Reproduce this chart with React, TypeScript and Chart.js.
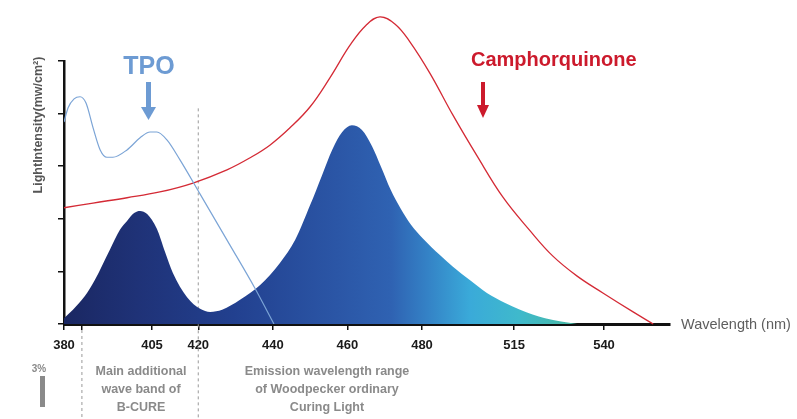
import React, { useEffect, useRef } from 'react';
import { Chart, registerables } from 'chart.js';

Chart.register(...registerables);

// ---- data (x in nm on the chart's own schematic scale, y in intensity units 0..5) ----
const emissionNm = [384.0, 386.4, 389.6, 392.3, 396.3, 399.0, 400.9, 402.8, 404.4, 406.3, 408.9, 411.1, 413.2, 417.0, 420.5, 423.2, 426.4, 431.2, 436.6, 441.9, 446.0, 450.0, 453.2, 455.9, 458.6, 461.2, 463.9, 466.6, 469.0, 471.6, 474.3, 477.0, 480.3, 484.8, 488.3, 492.9, 497.4, 502.3, 506.3, 513.0, 521.6];
const emissionLevel = [0.11, 0.27, 0.53, 0.84, 1.41, 1.79, 1.96, 2.11, 2.15, 2.09, 1.81, 1.37, 0.97, 0.51, 0.29, 0.23, 0.27, 0.46, 0.74, 1.16, 1.60, 2.26, 2.83, 3.31, 3.65, 3.78, 3.69, 3.38, 2.99, 2.55, 2.19, 1.89, 1.62, 1.31, 1.09, 0.83, 0.59, 0.40, 0.27, 0.11, 0.0];

const tpoNm = [384.0, 385.1, 386.7, 388.3, 389.9, 391.8, 393.7, 395.5, 397.1, 400.9, 404.4, 407.1, 408.9, 411.6, 415.1, 420.5, 428.5, 435.2, 440.3];
const tpoLevel = [3.84, 4.11, 4.28, 4.32, 4.20, 3.73, 3.31, 3.17, 3.17, 3.31, 3.54, 3.65, 3.65, 3.50, 3.12, 2.47, 1.50, 0.68, 0.0];

const cqNm = [384.0, 391.8, 400.9, 409.7, 418.6, 427.7, 433.9, 439.2, 444.6, 450.0, 455.3, 460.7, 465.0, 468.7, 472.8, 476.8, 482.1, 488.3, 494.8, 501.7, 509.0, 515.1, 521.6, 528.5, 536.6, 542.0];
const cqLevel = [2.21, 2.30, 2.40, 2.51, 2.68, 2.93, 3.16, 3.40, 3.73, 4.13, 4.68, 5.30, 5.68, 5.84, 5.70, 5.36, 4.77, 3.97, 3.19, 2.41, 1.77, 1.29, 0.91, 0.59, 0.23, 0.0];

const xTickValues = [384, 388.8, 407.6, 420, 440, 460, 480, 504.7, 528.8];
const xTickLabels = ['380', '', '405', '420', '440', '460', '480', '515', '540'];
const xMin = 384;
const xMax = 546.5;
const yTickStep = 1;
const yMax = 5;

const bandEdgeNm = 388.8;
const splitNm = 420;
const splitTopLevel = 4.1;

const yTitle = 'LightIntensity(mw/cm²)';
const xTitle = 'Wavelength (nm)';
const tpoLabel = 'TPO';
const cqLabel = 'Camphorquinone';
const leftNote = ['Main additional', 'wave band of', 'B-CURE'];
const rightNote = ['Emission wavelength range', 'of Woodpecker ordinary', 'Curing Light'];
const cornerNote = '3%';

const FONT = "'Liberation Sans', Arial, sans-serif";
const TPO_COLOR = '#6d9bd3';
const CQ_COLOR = '#cc1a2c';
const NOTE_COLOR = '#8a8a8a';

function arrowDown(ctx: CanvasRenderingContext2D, x: number, top: number, tip: number, shaft: number, head: number, color: string) {
  ctx.fillStyle = color;
  ctx.fillRect(x - shaft / 2, top, shaft, tip - top - 11);
  ctx.beginPath();
  ctx.moveTo(x - head / 2, tip - 13);
  ctx.lineTo(x + head / 2, tip - 13);
  ctx.lineTo(x, tip);
  ctx.closePath();
  ctx.fill();
}

const annotations = {
  id: 'annotations',
  beforeDatasetsDraw(chart: any) {
    const { ctx, scales } = chart;
    const x = scales.x;
    const y = scales.y;
    ctx.save();
    ctx.strokeStyle = '#9a9a9a';
    ctx.lineWidth = 1;
    ctx.setLineDash([3, 3]);
    const xs = x.getPixelForValue(splitNm);
    ctx.beginPath();
    ctx.moveTo(xs, y.getPixelForValue(splitTopLevel));
    ctx.lineTo(xs, chart.height);
    ctx.stroke();
    const xb = x.getPixelForValue(bandEdgeNm);
    ctx.beginPath();
    ctx.moveTo(xb, y.bottom + 6);
    ctx.lineTo(xb, chart.height);
    ctx.stroke();
    ctx.restore();
  },
  afterDraw(chart: any) {
    const { ctx, scales } = chart;
    const x = scales.x;
    const y = scales.y;
    ctx.save();
    // y title
    ctx.save();
    ctx.translate(39, 125);
    ctx.rotate(-Math.PI / 2);
    ctx.font = `bold 12.5px ${FONT}`;
    ctx.fillStyle = '#555';
    ctx.textAlign = 'center';
    ctx.textBaseline = 'middle';
    ctx.fillText(yTitle, 0, 0);
    ctx.restore();

    // x title
    ctx.font = `14.5px ${FONT}`;
    ctx.fillStyle = '#5e5e5e';
    ctx.textAlign = 'left';
    ctx.textBaseline = 'middle';
    ctx.fillText(xTitle, x.right + 11, y.bottom + 1);

    // TPO
    ctx.font = `bold 25px ${FONT}`;
    ctx.fillStyle = TPO_COLOR;
    ctx.textAlign = 'center';
    ctx.fillText(tpoLabel, 149, 67);
    arrowDown(ctx, 148.5, 82, 120, 5, 15, TPO_COLOR);

    // Camphorquinone
    ctx.font = `bold 20px ${FONT}`;
    ctx.fillStyle = CQ_COLOR;
    ctx.textAlign = 'left';
    ctx.fillText(cqLabel, 471, 60);
    arrowDown(ctx, 483, 82, 118, 4, 12, CQ_COLOR);

    // bottom notes
    ctx.font = `bold 12.5px ${FONT}`;
    ctx.fillStyle = NOTE_COLOR;
    ctx.textAlign = 'center';
    leftNote.forEach((t, i) => ctx.fillText(t, 141, 372 + i * 18));
    rightNote.forEach((t, i) => ctx.fillText(t, 327, 372 + i * 18));

    // corner mark
    ctx.font = `bold 10px ${FONT}`;
    ctx.fillText(cornerNote, 39, 369);
    ctx.fillRect(40, 376, 5, 31);
    ctx.restore();
  },
};

export default function App() {
  const ref = useRef<HTMLCanvasElement | null>(null);
  useEffect(() => {
    if (!ref.current) return;
    const zip = (xs: number[], ys: number[]) => xs.map((v, i) => ({ x: v, y: ys[i] }));
    const chart = new Chart(ref.current, {
      type: 'line',
      data: {
        datasets: [
          {
            label: 'TPO',
            data: zip(tpoNm, tpoLevel),
            borderColor: '#7ba4d6',
            borderWidth: 1.2,
            pointRadius: 0,
            fill: false,
            cubicInterpolationMode: 'monotone',
          },
          {
            label: 'Camphorquinone',
            data: zip(cqNm, cqLevel),
            borderColor: '#d42a35',
            borderWidth: 1.3,
            pointRadius: 0,
            fill: false,
            clip: false as any,
            tension: 0.4,
          },
          {
            label: 'Emission',
            data: zip(emissionNm, emissionLevel),
            borderWidth: 0,
            borderColor: 'rgba(0,0,0,0)',
            pointRadius: 0,
            fill: 'origin',
            cubicInterpolationMode: 'monotone',
            backgroundColor: (c: any) => {
              const area = c.chart.chartArea;
              if (!area) return '#2a4fa8';
              const g = c.chart.ctx.createLinearGradient(area.left, 0, area.right, 0);
              g.addColorStop(0, '#1a2762');
              g.addColorStop(0.12, '#1f3277');
              g.addColorStop(0.28, '#22408f');
              g.addColorStop(0.45, '#2b56a6');
              g.addColorStop(0.54, '#2f62b2');
              g.addColorStop(0.6, '#3482c6');
              g.addColorStop(0.67, '#3aaad9');
              g.addColorStop(0.75, '#3fb9cc');
              g.addColorStop(0.86, '#48b89c');
              return g;
            },
          },
        ],
      },
      options: {
        animation: false,
        responsive: true,
        maintainAspectRatio: false,
        layout: { padding: { left: 34, right: 127, top: 61, bottom: 0 } },
        plugins: { legend: { display: false }, tooltip: { enabled: false } },
        scales: {
          x: {
            type: 'linear',
            min: xMin,
            max: xMax,
            afterBuildTicks: (s: any) => {
              s.ticks = xTickValues.map((v) => ({ value: v }));
            },
            afterFit: (s: any) => {
              s.height = 95;
            },
            ticks: {
              callback: (_v: any, i: number) => xTickLabels[i],
              autoSkip: false,
              maxRotation: 0,
              padding: 8,
              color: '#1a1a1a',
              font: { family: FONT, size: 13, weight: 'bold' },
            },
            grid: { drawOnChartArea: false, drawTicks: true, tickLength: 6, color: '#111', lineWidth: 1.5 },
            border: { display: true, color: '#111', width: 3 },
          },
          y: {
            type: 'linear',
            min: 0,
            max: yMax,
            afterFit: (s: any) => {
              s.width = 30;
            },
            ticks: { display: false, stepSize: yTickStep },
            grid: { drawOnChartArea: false, drawTicks: true, tickLength: 6, color: '#111', lineWidth: 1.5 },
            border: { display: true, color: '#111', width: 2.5 },
          },
        },
      },
      plugins: [annotations],
    } as any);
    return () => chart.destroy();
  }, []);
  return (
    <div style={{ position: 'absolute', left: 0, top: 0, width: 797, height: 419, background: '#fff' }}>
      <canvas ref={ref} />
    </div>
  );
}
